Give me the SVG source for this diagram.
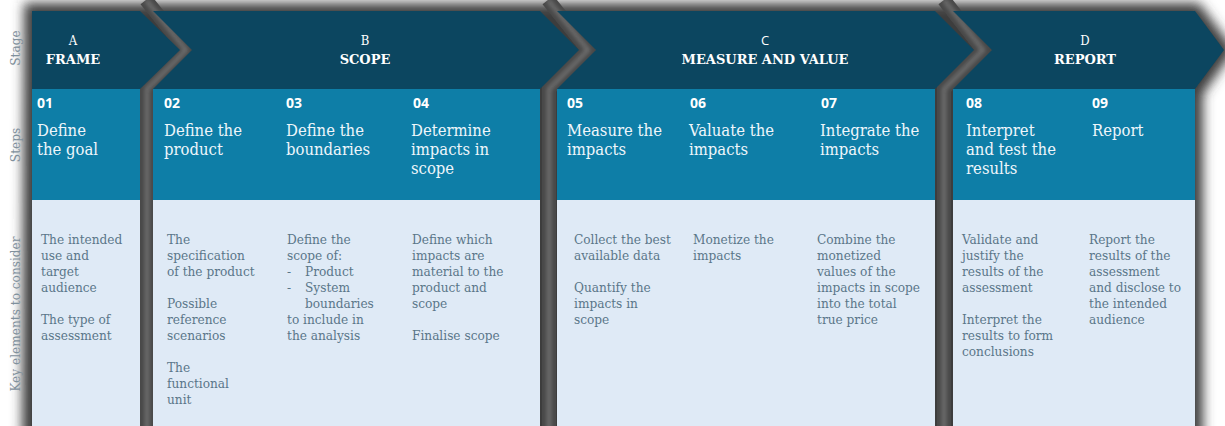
<svg xmlns="http://www.w3.org/2000/svg" width="1225" height="426" viewBox="0 0 1225 426">
<style>
.hd{fill:#0c4660}
.st{fill:#0e7ea7}
.ke{fill:#dfeaf6}
.stage{font-family:"DejaVu Serif","Liberation Serif",serif;fill:#ffffff;text-anchor:middle}
.letter{font-size:13px;font-family:"DejaVu Serif Condensed","DejaVu Serif",serif}
.name{font-size:13px;font-weight:bold}
.num{font-family:"Open Sans","DejaVu Sans",sans-serif;font-size:14px;font-weight:bold;fill:#ffffff}
.title{font-family:"DejaVu Serif Condensed","DejaVu Serif",serif;font-size:16.5px;fill:#eef6fb}
.body{font-family:"DejaVu Serif Condensed","DejaVu Serif",serif;font-size:13.5px;fill:#5a7689}
.side{font-family:"DejaVu Serif Condensed","DejaVu Serif",serif;font-size:13.5px;fill:#7f909c;text-anchor:middle}
.gap{fill:none;stroke:#484848;stroke-width:14;stroke-linejoin:miter}
.gapc{fill:none;stroke:#727272;stroke-width:4;stroke-linejoin:miter}
</style>
<defs>
<filter id="blur" x="-10%" y="-20%" width="120%" height="140%"><feGaussianBlur stdDeviation="6"/></filter>
<filter id="blur2" x="-50%" y="-10%" width="200%" height="120%"><feGaussianBlur stdDeviation="2"/></filter>
</defs>
<rect x="0" y="0" width="1225" height="426" fill="#ffffff"/>
<g id="shadow">
<polygon points="24,3 1199,3 1234,50 1203,94 1203,440 22,440" fill="#3c3c3c" filter="url(#blur)"/>
</g>
<g id="connectors">
<path class="gap" d="M146,0 L186,50 L147,89 L147,430"/>
<path class="gapc" d="M146,0 L186,50 L147,89 L147,430" filter="url(#blur2)"/>
<path class="gap" d="M548,0 L588,50 L549,89 L549,430"/>
<path class="gapc" d="M548,0 L588,50 L549,89 L549,430" filter="url(#blur2)"/>
<path class="gap" d="M944,0 L983,50 L944,89 L944,430"/>
<path class="gapc" d="M944,0 L983,50 L944,89 L944,430" filter="url(#blur2)"/>
</g>
<g id="labels">
<text class="side" transform="translate(20,48) rotate(-90)">Stage</text>
<text class="side" transform="translate(20,145) rotate(-90)">Steps</text>
<text class="side" transform="translate(20,314) rotate(-90)">Key elements to consider</text>
</g>
<g id="stageA">
<polygon class="hd" points="32,11 140,11 180,50 140,89 32,89"/>
<rect class="st" x="32" y="89" width="108" height="111"/>
<rect class="ke" x="32" y="200" width="108" height="226"/>
<text class="stage letter" x="73" y="45">A</text>
<text class="stage name" x="73" y="64">FRAME</text>
</g>
<g id="stageB">
<polygon class="hd" points="153,11 540,11 579,50 540,89 153,89 192,50"/>
<rect class="st" x="153" y="89" width="387" height="111"/>
<rect class="ke" x="153" y="200" width="387" height="226"/>
<text class="stage letter" x="365" y="45">B</text>
<text class="stage name" x="365" y="64">SCOPE</text>
</g>
<g id="stageC">
<polygon class="hd" points="557,11 935,11 974,50 935,89 557,89 596,50"/>
<rect class="st" x="557" y="89" width="378" height="111"/>
<rect class="ke" x="557" y="200" width="378" height="226"/>
<text class="stage letter" x="765" y="45" style="font-family:'Open Sans','DejaVu Sans',sans-serif;font-size:13px">C</text>
<text class="stage name" x="765" y="64">MEASURE AND VALUE</text>
</g>
<g id="stageD">
<polygon class="hd" points="953,11 1195,11 1224,50 1195,89 953,89 992,50"/>
<rect class="st" x="953" y="89" width="242" height="111"/>
<rect class="ke" x="953" y="200" width="242" height="226"/>
<text class="stage letter" x="1085" y="45">D</text>
<text class="stage name" x="1085" y="64">REPORT</text>
</g>
<g id="step01">
<text class="num" x="37" y="108">01</text>
<text class="title" x="37" y="136">Define</text>
<text class="title" x="37" y="155">the goal</text>
<text class="body" x="41" y="244">The intended</text>
<text class="body" x="41" y="260">use and</text>
<text class="body" x="41" y="276">target</text>
<text class="body" x="41" y="292">audience</text>
<text class="body" x="41" y="324">The type of</text>
<text class="body" x="41" y="340">assessment</text>
</g>
<g id="step02">
<text class="num" x="164" y="108">02</text>
<text class="title" x="164" y="136">Define the</text>
<text class="title" x="164" y="155">product</text>
<text class="body" x="167" y="244">The</text>
<text class="body" x="167" y="260">specification</text>
<text class="body" x="167" y="276">of the product</text>
<text class="body" x="167" y="308">Possible</text>
<text class="body" x="167" y="324">reference</text>
<text class="body" x="167" y="340">scenarios</text>
<text class="body" x="167" y="372">The</text>
<text class="body" x="167" y="388">functional</text>
<text class="body" x="167" y="404">unit</text>
</g>
<g id="step03">
<text class="num" x="286" y="108">03</text>
<text class="title" x="286" y="136">Define the</text>
<text class="title" x="286" y="155">boundaries</text>
<text class="body" x="287" y="244">Define the</text>
<text class="body" x="287" y="260">scope of:</text>
<text class="body" x="287" y="276">-</text>
<text class="body" x="305" y="276">Product</text>
<text class="body" x="287" y="292">-</text>
<text class="body" x="305" y="292">System</text>
<text class="body" x="305" y="308">boundaries</text>
<text class="body" x="287" y="324">to include in</text>
<text class="body" x="287" y="340">the analysis</text>
</g>
<g id="step04">
<text class="num" x="413" y="108">04</text>
<text class="title" x="411" y="136">Determine</text>
<text class="title" x="411" y="155">impacts in</text>
<text class="title" x="411" y="174">scope</text>
<text class="body" x="412" y="244">Define which</text>
<text class="body" x="412" y="260">impacts are</text>
<text class="body" x="412" y="276">material to the</text>
<text class="body" x="412" y="292">product and</text>
<text class="body" x="412" y="308">scope</text>
<text class="body" x="412" y="340">Finalise scope</text>
</g>
<g id="step05">
<text class="num" x="567" y="108">05</text>
<text class="title" x="567" y="136">Measure the</text>
<text class="title" x="567" y="155">impacts</text>
<text class="body" x="574" y="244">Collect the best</text>
<text class="body" x="574" y="260">available data</text>
<text class="body" x="574" y="292">Quantify the</text>
<text class="body" x="574" y="308">impacts in</text>
<text class="body" x="574" y="324">scope</text>
</g>
<g id="step06">
<text class="num" x="690" y="108">06</text>
<text class="title" x="689" y="136">Valuate the</text>
<text class="title" x="689" y="155">impacts</text>
<text class="body" x="693" y="244">Monetize the</text>
<text class="body" x="693" y="260">impacts</text>
</g>
<g id="step07">
<text class="num" x="821" y="108">07</text>
<text class="title" x="820" y="136">Integrate the</text>
<text class="title" x="820" y="155">impacts</text>
<text class="body" x="817" y="244">Combine the</text>
<text class="body" x="817" y="260">monetized</text>
<text class="body" x="817" y="276">values of the</text>
<text class="body" x="817" y="292">impacts in scope</text>
<text class="body" x="817" y="308">into the total</text>
<text class="body" x="817" y="324">true price</text>
</g>
<g id="step08">
<text class="num" x="966" y="108">08</text>
<text class="title" x="966" y="136">Interpret</text>
<text class="title" x="966" y="155">and test the</text>
<text class="title" x="966" y="174">results</text>
<text class="body" x="962" y="244">Validate and</text>
<text class="body" x="962" y="260">justify the</text>
<text class="body" x="962" y="276">results of the</text>
<text class="body" x="962" y="292">assessment</text>
<text class="body" x="962" y="324">Interpret the</text>
<text class="body" x="962" y="340">results to form</text>
<text class="body" x="962" y="356">conclusions</text>
</g>
<g id="step09">
<text class="num" x="1092" y="108">09</text>
<text class="title" x="1092" y="136">Report</text>
<text class="body" x="1089" y="244">Report the</text>
<text class="body" x="1089" y="260">results of the</text>
<text class="body" x="1089" y="276">assessment</text>
<text class="body" x="1089" y="292">and disclose to</text>
<text class="body" x="1089" y="308">the intended</text>
<text class="body" x="1089" y="324">audience</text>
</g>
</svg>
